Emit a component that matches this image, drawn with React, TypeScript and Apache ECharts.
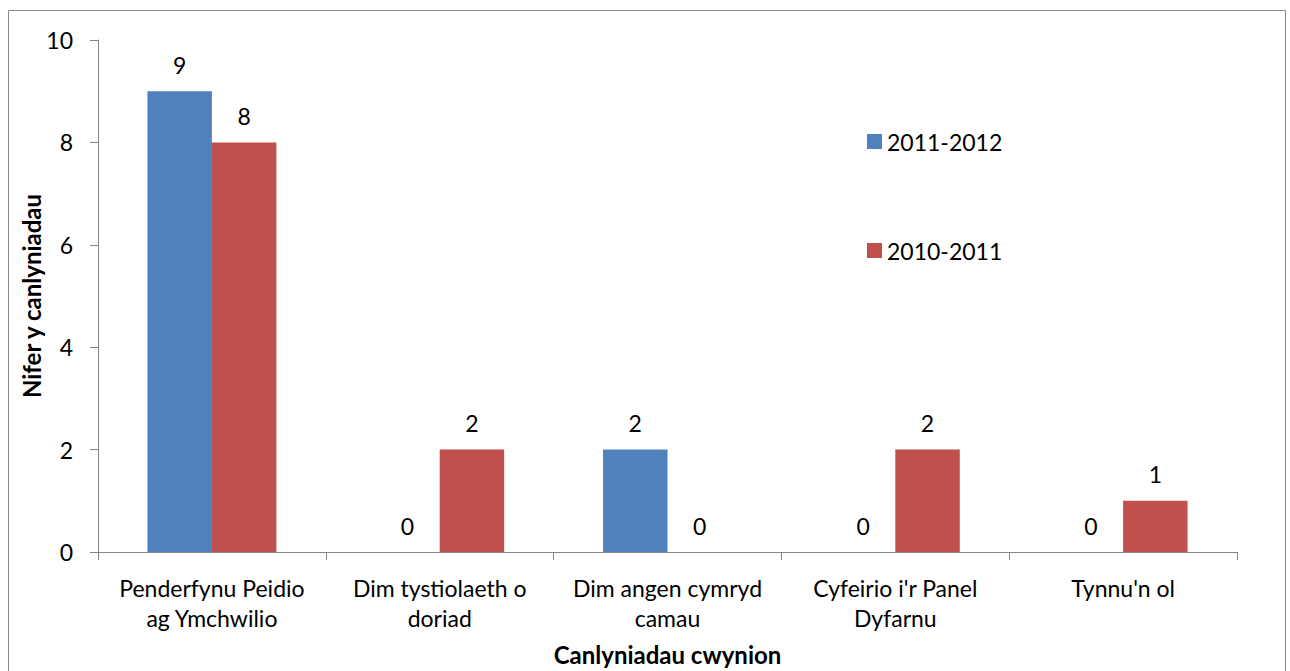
import React, { useEffect, useRef } from "react";
import * as echarts from "echarts";

const categories = [
  "Penderfynu Peidio\nag Ymchwilio",
  "Dim tystiolaeth o\ndoriad",
  "Dim angen cymryd\ncamau",
  "Cyfeirio i'r Panel\nDyfarnu",
  "Tynnu'n ol",
];
const series2011_2012 = [9, 0, 2, 0, 0];
const series2010_2011 = [8, 2, 0, 2, 1];
const seriesNames = ["2011-2012", "2010-2011"];

const FONT = "Lato";
const FS = 23;
const TITLE_FS = 24;

export default function App() {
  const ref = useRef<HTMLDivElement>(null);
  useEffect(() => {
    if (!ref.current) return;
    const chart = echarts.init(ref.current, undefined, { renderer: "svg" });
    const axisColor = "#868686";
    const labelCommon = {
      show: true,
      position: "top",
      distance: 15,
      color: "#000",
      fontFamily: FONT,
      fontSize: FS,
    };
    chart.setOption({
      animation: false,
      backgroundColor: "#fff",
      textStyle: { fontFamily: FONT },
      graphic: [
        {
          type: "rect",
          shape: { x: 8.5, y: 10.5, width: 1277, height: 700 },
          style: { fill: "none", stroke: "#888", lineWidth: 1 },
          silent: true,
        },
      ],
      legend: {
        orient: "vertical",
        left: 862,
        top: 125,
        itemWidth: 15,
        itemHeight: 15,
        itemGap: 86,
        icon: "rect",
        textStyle: { fontFamily: FONT, fontSize: FS, color: "#000" },
        data: seriesNames,
      },
      grid: { left: 98, right: 53, top: 40, bottom: 118, containLabel: false },
      xAxis: {
        type: "category",
        data: categories,
        name: "Canlyniadau cwynion",
        nameLocation: "middle",
        nameGap: 90,
        nameMoveOverlap: false,
        nameTextStyle: { fontFamily: FONT, fontSize: TITLE_FS, fontWeight: "bold", color: "#000" },
        axisLine: { lineStyle: { color: axisColor } },
        axisTick: { show: true, alignWithLabel: false, length: 8, lineStyle: { color: axisColor } },
        axisLabel: {
          color: "#000",
          fontFamily: FONT,
          fontSize: FS,
          lineHeight: 30,
          margin: 21,
          interval: 0,
        },
      },
      yAxis: {
        type: "value",
        min: 0,
        max: 10,
        interval: 2,
        name: "Nifer y canlyniadau",
        nameLocation: "middle",
        nameGap: 55,
        nameMoveOverlap: false,
        nameRotate: 90,
        nameTextStyle: { fontFamily: FONT, fontSize: TITLE_FS, fontWeight: "bold", color: "#000" },
        axisLine: { show: true, lineStyle: { color: axisColor } },
        axisTick: { show: true, length: 8, lineStyle: { color: axisColor } },
        splitLine: { show: false },
        axisLabel: { color: "#000", fontFamily: FONT, fontSize: FS, margin: 25 },
      },
      series: [
        {
          name: seriesNames[0],
          type: "bar",
          data: series2011_2012,
          itemStyle: { color: "#4F81BD" },
          barGap: "0%",
          barCategoryGap: "43.4%",
          label: labelCommon,
        },
        {
          name: seriesNames[1],
          type: "bar",
          data: series2010_2011,
          itemStyle: { color: "#C0504D" },
          label: labelCommon,
        },
      ],
    });
    return () => chart.dispose();
  }, []);
  return (
    <div
      ref={ref}
      style={{ position: "absolute", left: 0, top: 0, width: 1290, height: 671 }}
    />
  );
}
